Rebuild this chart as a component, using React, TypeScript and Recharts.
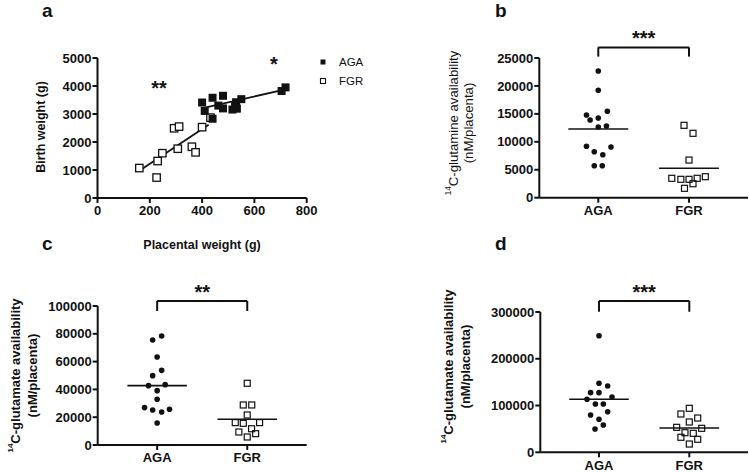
import React from "react";
import {
  Legend,
  ReferenceDot,
  ReferenceLine,
  Scatter,
  ScatterChart,
  XAxis,
  YAxis,
} from "recharts";

// panel a: placental weight (g) vs birth weight (g)
const birthAGA = [
  { x: 400, y: 3410 },
  { x: 410, y: 3110 },
  { x: 440, y: 3580 },
  { x: 440, y: 2830 },
  { x: 462, y: 3300 },
  { x: 480, y: 3650 },
  { x: 480, y: 3200 },
  { x: 516, y: 3160 },
  { x: 526, y: 3290 },
  { x: 530, y: 3420 },
  { x: 533, y: 3190 },
  { x: 550, y: 3530 },
  { x: 704, y: 3820 },
  { x: 719, y: 3950 },
];
const birthFGR = [
  { x: 160, y: 1070 },
  { x: 226, y: 730 },
  { x: 230, y: 1320 },
  { x: 248, y: 1600 },
  { x: 293, y: 2490 },
  { x: 312, y: 2550 },
  { x: 307, y: 1760 },
  { x: 361, y: 1830 },
  { x: 375, y: 1630 },
  { x: 400, y: 2530 },
  { x: 432, y: 2870 },
];
const fitFGR = [
  { x: 160, y: 975 },
  { x: 425, y: 2620 },
];
const fitAGA = [
  { x: 402, y: 3210 },
  { x: 715, y: 3870 },
];

// panels b-d: groups with jittered x position
const groups = ["AGA", "FGR"];

const glutamineAGA = [
  { x: 1.0, y: 22680 },
  { x: 1.0, y: 19220 },
  { x: 0.87, y: 14800 },
  { x: 0.91, y: 13900 },
  { x: 1.0, y: 14260 },
  { x: 1.1, y: 15460 },
  { x: 1.0, y: 12650 },
  { x: 1.09, y: 12830 },
  { x: 0.87, y: 9200 },
  { x: 0.956, y: 8230 },
  { x: 1.05, y: 7690 },
  { x: 1.14, y: 9070 },
  { x: 0.956, y: 5720 },
  { x: 1.044, y: 5720 },
];
const glutamineFGR = [
  { x: 1.945, y: 12950 },
  { x: 2.044, y: 11520 },
  { x: 2.0, y: 6740 },
  { x: 1.81, y: 3470 },
  { x: 1.91, y: 3290 },
  { x: 2.0, y: 3290 },
  { x: 2.09, y: 3470 },
  { x: 2.18, y: 3760 },
  { x: 1.95, y: 1680 },
  { x: 2.044, y: 2500 },
];
const glutamineMeans = [12290, 5260];

const glutamateAGA = [
  { x: 1.05, y: 78400 },
  { x: 0.95, y: 75500 },
  { x: 1.0, y: 63300 },
  { x: 1.05, y: 53700 },
  { x: 0.95, y: 49900 },
  { x: 0.904, y: 42700 },
  { x: 1.089, y: 43400 },
  { x: 1.0, y: 39100 },
  { x: 1.0, y: 32900 },
  { x: 0.86, y: 26900 },
  { x: 0.95, y: 25200 },
  { x: 1.05, y: 23700 },
  { x: 1.137, y: 25700 },
  { x: 1.0, y: 15800 },
];
const glutamateFGR = [
  { x: 2.0, y: 44400 },
  { x: 1.956, y: 28800 },
  { x: 2.05, y: 28800 },
  { x: 2.0, y: 21600 },
  { x: 1.867, y: 16100 },
  { x: 1.956, y: 15600 },
  { x: 2.137, y: 16100 },
  { x: 1.907, y: 9350 },
  { x: 2.048, y: 11700 },
  { x: 2.093, y: 8150 },
  { x: 2.0, y: 5760 },
];
const glutamateMeans = [42700, 18500];

const glutamate2AGA = [
  { x: 1.0, y: 249300 },
  { x: 1.0, y: 147500 },
  { x: 1.096, y: 141800 },
  { x: 0.907, y: 127500 },
  { x: 1.0, y: 127500 },
  { x: 1.144, y: 118300 },
  { x: 0.867, y: 113300 },
  { x: 0.96, y: 103300 },
  { x: 1.048, y: 103300 },
  { x: 0.907, y: 79800 },
  { x: 1.096, y: 86800 },
  { x: 1.0, y: 70600 },
  { x: 1.048, y: 58400 },
  { x: 0.956, y: 49800 },
];
const glutamate2FGR = [
  { x: 2.0, y: 94100 },
  { x: 1.907, y: 81900 },
  { x: 2.093, y: 73300 },
  { x: 2.0, y: 64800 },
  { x: 1.86, y: 53400 },
  { x: 2.137, y: 51300 },
  { x: 1.952, y: 41900 },
  { x: 2.044, y: 40600 },
  { x: 1.907, y: 32100 },
  { x: 2.093, y: 27800 },
  { x: 2.0, y: 17700 },
];
const glutamate2Means = [113300, 52000];

const INK = "#111";
const FONT = "'Liberation Sans', Arial, sans-serif";

const axisLine = { stroke: INK, strokeWidth: 2 };
const tickStyle = { fontSize: 13, fontWeight: "bold", fill: INK };

const FilledSquare = (p: any) => (
  <rect x={p.cx - 4} y={p.cy - 4} width={8} height={8} fill={INK} />
);
const OpenSquareA = (p: any) => (
  <rect
    x={p.cx - 3.7}
    y={p.cy - 3.7}
    width={7.4}
    height={7.4}
    fill="#fff"
    stroke={INK}
    strokeWidth={1.3}
  />
);
const Dot = (p: any) => <circle cx={p.cx} cy={p.cy} r={2.8} fill={INK} />;
const OpenSquare = (p: any) => (
  <rect
    x={p.cx - 3}
    y={p.cy - 3}
    width={6}
    height={6}
    fill="none"
    stroke={INK}
    strokeWidth={1.2}
  />
);

function yTitle(
  lines: string[],
  xs: number[],
  cy: number,
  fontSize: number,
  bold: boolean,
) {
  return () => (
    <g>
      {lines.map((line, i) => (
        <text
          key={line}
          x={xs[i]}
          y={cy}
          transform={`rotate(-90, ${xs[i]}, ${cy})`}
          textAnchor="middle"
          dominantBaseline="central"
          fontSize={fontSize}
          fontWeight={bold ? "bold" : "normal"}
          fill={INK}
        >
          {line.startsWith("14") ? (
            <>
              <tspan fontSize={fontSize * 0.62} dy={-fontSize * 0.35}>
                14
              </tspan>
              <tspan dy={fontSize * 0.35}>{line.slice(2)}</tspan>
            </>
          ) : (
            line
          )}
        </text>
      ))}
    </g>
  );
}

function LegendBox() {
  const icons = [
    <rect x={2.5} y={2.5} width={5} height={5} fill={INK} />,
    <rect
      x={2.5}
      y={2.5}
      width={5}
      height={5}
      fill="none"
      stroke={INK}
      strokeWidth={1.1}
    />,
  ];
  return (
    <div style={{ fontSize: 11.5, color: INK, fontFamily: FONT }}>
      {groups.map((name, i) => (
        <div
          key={name}
          style={{ display: "flex", alignItems: "center", height: 19.5 }}
        >
          <svg width={10} height={10}>
            {icons[i]}
          </svg>
          <span style={{ marginLeft: 11 }}>{name}</span>
        </div>
      ))}
    </div>
  );
}

interface GroupPanelProps {
  width: number;
  height: number;
  margin: { top: number; right: number; bottom: number; left: number };
  yWidth: number;
  xDomain: [number, number];
  yMax: number;
  yTicks: number[];
  agaData: { x: number; y: number }[];
  fgrData: { x: number; y: number }[];
  means: number[];
  bracketTop: number;
  bracketEnd: number;
  stars: string;
  title: () => React.ReactElement;
}

function GroupPanel(props: GroupPanelProps) {
  const {
    width,
    height,
    margin,
    yWidth,
    xDomain,
    yMax,
    yTicks,
    agaData,
    fgrData,
    means,
    bracketTop,
    bracketEnd,
    stars,
    title,
  } = props;
  const half = 0.33;
  return (
    <ScatterChart width={width} height={height} margin={margin}>
      <XAxis
        type="number"
        dataKey="x"
        domain={xDomain}
        ticks={[1, 2]}
        tickFormatter={(v) => groups[Number(v) - 1]}
        axisLine={axisLine}
        tickLine={axisLine}
        tickSize={5}
        tickMargin={3}
        tick={tickStyle}
        height={16}
        allowDataOverflow
      />
      <YAxis
        type="number"
        dataKey="y"
        domain={[0, yMax]}
        ticks={yTicks}
        axisLine={axisLine}
        tickLine={axisLine}
        tickSize={5}
        tickMargin={1}
        tick={tickStyle}
        width={yWidth}
        label={title}
      />
      {means.map((m, i) => (
        <ReferenceLine
          key={i}
          segment={[
            { x: i + 1 - half, y: m },
            { x: i + 1 + half, y: m },
          ]}
          stroke={INK}
          strokeWidth={1.6}
          ifOverflow="visible"
        />
      ))}
      <ReferenceLine
        segment={[
          { x: 1, y: bracketEnd },
          { x: 1, y: bracketTop },
        ]}
        stroke={INK}
        strokeWidth={2}
        ifOverflow="visible"
      />
      <ReferenceLine
        segment={[
          { x: 2, y: bracketEnd },
          { x: 2, y: bracketTop },
        ]}
        stroke={INK}
        strokeWidth={2}
        ifOverflow="visible"
      />
      <ReferenceLine
        segment={[
          { x: 1, y: bracketTop },
          { x: 2, y: bracketTop },
        ]}
        stroke={INK}
        strokeWidth={2}
        ifOverflow="visible"
        label={{
          value: stars,
          position: "top",
          offset: 2,
          fontSize: 20,
          fontWeight: "bold",
          fill: INK,
        }}
      />
      <Scatter
        name="AGA"
        data={agaData}
        shape={Dot}
        isAnimationActive={false}
      />
      <Scatter
        name="FGR"
        data={fgrData}
        shape={OpenSquare}
        isAnimationActive={false}
      />
    </ScatterChart>
  );
}

const letterStyle: React.CSSProperties = {
  position: "absolute",
  fontSize: 19,
  fontWeight: "bold",
  lineHeight: "normal",
  color: INK,
};

export default function App() {
  return (
    <div
      style={{
        position: "absolute",
        left: 0,
        top: 0,
        width: 749,
        height: 472,
        background: "#fff",
        fontFamily: FONT,
        overflow: "hidden",
      }}
    >
      <div style={{ position: "absolute", left: 0, top: 0 }}>
        <ScatterChart
          width={380}
          height={256}
          margin={{ top: 58, right: 73.3, bottom: 28, left: 0 }}
        >
          <XAxis
            type="number"
            dataKey="x"
            domain={[0, 800]}
            ticks={[0, 200, 400, 600, 800]}
            axisLine={axisLine}
            tickLine={axisLine}
            tickSize={5}
            tickMargin={3}
            tick={tickStyle}
            height={30}
            label={() => (
              <text
                x={202}
                y={245}
                textAnchor="middle"
                dominantBaseline="central"
                fontSize={12.5}
                fontWeight="bold"
                fill={INK}
              >
                Placental weight (g)
              </text>
            )}
          />
          <YAxis
            type="number"
            dataKey="y"
            domain={[0, 5000]}
            ticks={[0, 1000, 2000, 3000, 4000, 5000]}
            axisLine={axisLine}
            tickLine={axisLine}
            tickSize={5}
            tickMargin={1}
            tick={tickStyle}
            width={97.5}
            label={yTitle(["Birth weight (g)"], [41], 127, 12.5, true)}
          />
          <Legend
            layout="vertical"
            align="center"
            verticalAlign="middle"
            wrapperStyle={{ left: 318, top: 52, width: 60, height: 40 }}
            content={() => <LegendBox />}
          />
          <ReferenceLine
            segment={fitFGR}
            stroke={INK}
            strokeWidth={1.8}
            ifOverflow="visible"
          />
          <ReferenceLine
            segment={fitAGA}
            stroke={INK}
            strokeWidth={1.8}
            ifOverflow="visible"
          />
          <ReferenceDot
            x={235}
            y={3930}
            r={3}
            fill="none"
            stroke="none"
            label={{
              value: "**",
              position: "center",
              fontSize: 20,
              fontWeight: "bold",
              fill: INK,
            }}
          />
          <ReferenceDot
            x={675}
            y={4800}
            r={3}
            fill="none"
            stroke="none"
            label={{
              value: "*",
              position: "center",
              fontSize: 20,
              fontWeight: "bold",
              fill: INK,
            }}
          />
          <Scatter
            name="FGR"
            data={birthFGR}
            shape={OpenSquareA}
            isAnimationActive={false}
          />
          <Scatter
            name="AGA"
            data={birthAGA}
            shape={FilledSquare}
            isAnimationActive={false}
          />
        </ScatterChart>
      </div>

      <div style={{ position: "absolute", left: 380, top: 0 }}>
        <GroupPanel
          width={369}
          height={230}
          margin={{ top: 58, right: 1, bottom: 16.3, left: 0 }}
          yWidth={159.3}
          xDomain={[0.35, 2.65]}
          yMax={25000}
          yTicks={[0, 5000, 10000, 15000, 20000, 25000]}
          agaData={glutamineAGA}
          fgrData={glutamineFGR}
          means={glutamineMeans}
          bracketTop={26900}
          bracketEnd={25250}
          stars="***"
          title={yTitle(
            ["14C-glutamine availability", "(nM/placenta)"],
            [73, 88],
            123,
            13.2,
            false,
          )}
        />
      </div>

      <div style={{ position: "absolute", left: 0, top: 240 }}>
        <GroupPanel
          width={380}
          height={232}
          margin={{ top: 66, right: 73.3, bottom: 11, left: 0 }}
          yWidth={97.7}
          xDomain={[0.34, 2.66]}
          yMax={100000}
          yTicks={[0, 20000, 40000, 60000, 80000, 100000]}
          agaData={glutamateAGA}
          fgrData={glutamateFGR}
          means={glutamateMeans}
          bracketTop={103600}
          bracketEnd={96400}
          stars="**"
          title={yTitle(
            ["14C-glutamate availability", "(nM/placenta)"],
            [15, 32],
            135.5,
            13,
            true,
          )}
        />
      </div>

      <div style={{ position: "absolute", left: 380, top: 240 }}>
        <GroupPanel
          width={369}
          height={232}
          margin={{ top: 72, right: 1, bottom: 3.7, left: 0 }}
          yWidth={160.3}
          xDomain={[0.35, 2.65]}
          yMax={300000}
          yTicks={[0, 100000, 200000, 300000]}
          agaData={glutamate2AGA}
          fgrData={glutamate2FGR}
          means={glutamate2Means}
          bracketTop={323500}
          bracketEnd={300600}
          stars="***"
          title={yTitle(
            ["14C-glutamate availability", "(nM/placenta)"],
            [68, 85],
            126.5,
            13,
            true,
          )}
        />
      </div>

      <div style={{ ...letterStyle, left: 42, top: 0 }}>a</div>
      <div style={{ ...letterStyle, left: 495, top: 0 }}>b</div>
      <div style={{ ...letterStyle, left: 42, top: 233 }}>c</div>
      <div style={{ ...letterStyle, left: 495, top: 233 }}>d</div>
    </div>
  );
}
